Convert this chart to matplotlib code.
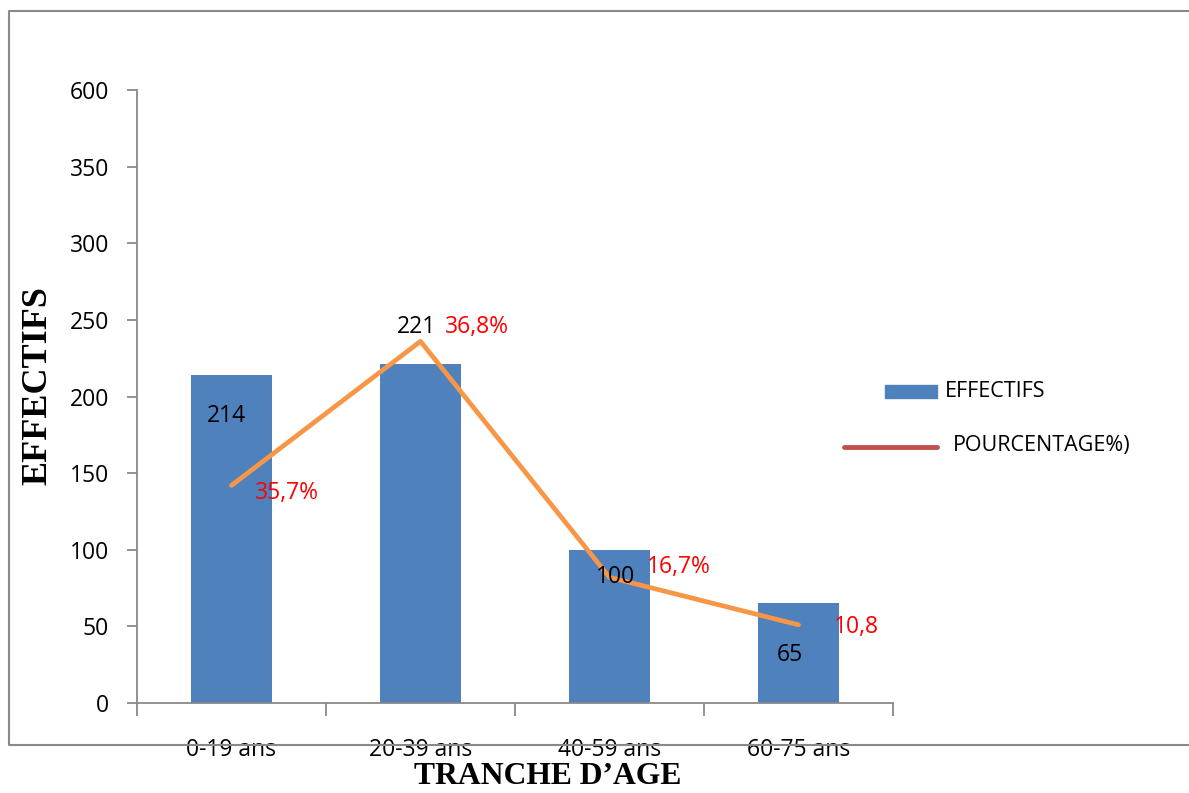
import matplotlib.pyplot as plt
from matplotlib.patches import Rectangle
from matplotlib.lines import Line2D

# --- donnees ---
tranches = ["0-19 ans", "20-39 ans", "40-59 ans", "60-75 ans"]
effectifs = [214, 221, 100, 65]
courbe = [142, 236, 82, 51]          # niveau de la courbe orange sur l'axe
pourcentages = ["35,7%", "36,8%", "16,7%", "10,8"]
graduations = [0, 50, 100, 150, 200, 250, 300, 350, 400]
etiquettes_y = ["0", "50", "100", "150", "200", "250", "300", "350", "600"]

BLEU = "#4F81BD"
ORANGE = "#F79646"
ROUGE_LEG = "#C0504D"
GRIS = "#898989"
POLICE = "Open Sans"
TAILLE = 16.5

W, H = 1189, 793
fig = plt.figure(figsize=(W / 100, H / 100), dpi=100)
ax = fig.add_axes([137 / W, 1 - 703 / H, (893 - 137) / W, (703 - 90) / H])

x = list(range(len(tranches)))
ax.bar(x, effectifs, width=0.43, color=BLEU, zorder=2)
ax.plot(x, courbe, color=ORANGE, lw=3.4, solid_capstyle="round", zorder=3)

ax.set_xlim(-0.5, 3.5)
ax.set_ylim(0, 400)

# axes gris, sans cadre haut/droite
for s in ["top", "right"]:
    ax.spines[s].set_visible(False)
for s in ["left", "bottom"]:
    ax.spines[s].set_color(GRIS)
    ax.spines[s].set_linewidth(1.3)

ax.set_yticks(graduations)
ax.set_yticklabels(etiquettes_y, fontsize=TAILLE, family=POLICE)
ax.tick_params(axis="y", length=7, color=GRIS, width=1.3, pad=13)

# graduations x entre les categories, libelles au centre
ax.set_xticks([i - 0.5 for i in range(len(tranches) + 1)])
ax.set_xticklabels([])
ax.tick_params(axis="x", length=9, color=GRIS, width=1.3)
ax.set_xticks(x, minor=True)
ax.set_xticklabels(tranches, minor=True, fontsize=TAILLE, family=POLICE)
ax.tick_params(axis="x", which="minor", length=0, pad=25)

# valeurs des barres
pos_eff = [(226, 416), (416, 327), (616, 577), (790, 655)]
for (px, py), v in zip(pos_eff, effectifs):
    fig.text(px / W, 1 - py / H, str(v), ha="center", va="center",
             fontsize=TAILLE, family=POLICE, color="black")

# pourcentages en rouge
pos_pct = [(255, 493), (445, 327), (647, 567), (834, 627)]
for (px, py), t in zip(pos_pct, pourcentages):
    fig.text(px / W, 1 - py / H, t, ha="left", va="center",
             fontsize=TAILLE, family=POLICE, color="red")

# titres des axes
fig.text(38 / W, 1 - 386 / H, "EFFECTIFS", rotation=90, ha="center",
         va="center", fontsize=26, fontweight="bold", family="Liberation Serif")
fig.text(548 / W, 1 - 776 / H, "TRANCHE D\u2019AGE", ha="center", va="center",
         fontsize=22.8, fontweight="bold", family="Liberation Serif")

# legende
fig.add_artist(Rectangle((885 / W, 1 - 398 / H), 52 / W, 13 / H,
                         transform=fig.transFigure, color=BLEU))
fig.text(945 / W, 1 - 392 / H, "EFFECTIFS", ha="left", va="center",
         fontsize=15.5, family=POLICE)
fig.add_artist(Line2D([844 / W, 937 / W], [1 - 447 / H, 1 - 447 / H],
                      transform=fig.transFigure, color=ROUGE_LEG, lw=3.5,
                      solid_capstyle="round"))
fig.text(953 / W, 1 - 446 / H, "POURCENTAGE%)", ha="left", va="center",
         fontsize=15.5, family=POLICE)

# cadre exterieur
fig.add_artist(Line2D([1.01, 9 / W, 9 / W, 1.01],
                      [1 - 11 / H, 1 - 11 / H, 1 - 745 / H, 1 - 745 / H],
                      transform=fig.transFigure, color=GRIS, lw=1.5))

fig.savefig("out.png", dpi=100)
